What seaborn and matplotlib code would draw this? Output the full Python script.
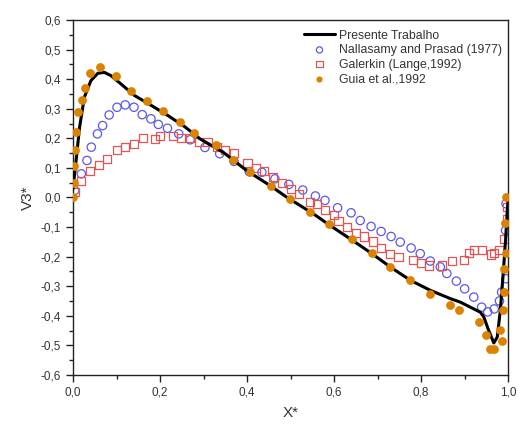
import matplotlib
matplotlib.use("Agg")
import matplotlib.pyplot as plt
import seaborn as sns
import pandas as pd
from matplotlib.ticker import MultipleLocator, FuncFormatter

# Presente Trabalho (line)
line_x = [0.0, 0.007, 0.015, 0.026, 0.041, 0.057, 0.072, 0.087, 0.11, 0.141, 0.18, 0.218,
          0.256, 0.292, 0.345, 0.399, 0.453, 0.491, 0.552, 0.591, 0.637, 0.687, 0.729,
          0.775, 0.821, 0.867, 0.89, 0.936, 0.944, 0.955, 0.967, 0.975, 0.982, 0.988,
          0.994, 0.998, 1.0]
line_y = [0.03, 0.125, 0.237, 0.339, 0.395, 0.42, 0.423, 0.412, 0.384, 0.345, 0.311, 0.277,
          0.24, 0.198, 0.153, 0.091, 0.04, 0.001, -0.055, -0.095, -0.14, -0.19, -0.235,
          -0.28, -0.314, -0.342, -0.354, -0.388, -0.404, -0.449, -0.492, -0.472, -0.382,
          -0.269, -0.145, -0.044, 0.0]

# Nallasamy and Prasad (1977)
nal_x = [0.004, 0.019, 0.032, 0.042, 0.056, 0.068, 0.083, 0.101, 0.12, 0.14, 0.159, 0.179,
         0.196, 0.217, 0.243, 0.269, 0.303, 0.337, 0.37, 0.405, 0.434, 0.464, 0.496, 0.528,
         0.557, 0.579, 0.608, 0.639, 0.66, 0.685, 0.708, 0.731, 0.752, 0.777, 0.798, 0.821,
         0.844, 0.859, 0.881, 0.9, 0.921, 0.939, 0.953, 0.968, 0.98, 0.985, 0.995, 0.994, 0.995]
nal_y = [0.024, 0.08, 0.125, 0.17, 0.215, 0.243, 0.279, 0.305, 0.313, 0.305, 0.28, 0.266,
         0.247, 0.234, 0.215, 0.195, 0.169, 0.148, 0.122, 0.087, 0.085, 0.063, 0.044, 0.025,
         0.005, -0.01, -0.035, -0.052, -0.078, -0.098, -0.115, -0.132, -0.151, -0.171, -0.19,
         -0.215, -0.235, -0.257, -0.283, -0.309, -0.337, -0.371, -0.387, -0.377, -0.35, -0.32,
         -0.275, -0.111, -0.021]

# Galerkin (Lange, 1992)
gal_x = [0.005, 0.019, 0.04, 0.059, 0.079, 0.1, 0.119, 0.14, 0.16, 0.188, 0.2, 0.229, 0.249,
         0.269, 0.29, 0.309, 0.33, 0.349, 0.37, 0.401, 0.421, 0.439, 0.46, 0.48, 0.5, 0.52,
         0.545, 0.56, 0.579, 0.6, 0.61, 0.629, 0.651, 0.669, 0.689, 0.708, 0.729, 0.748,
         0.781, 0.8, 0.819, 0.848, 0.871, 0.899, 0.909, 0.921, 0.94, 0.961, 0.968, 0.98,
         0.99, 0.998, 0.998]
gal_y = [0.018, 0.057, 0.089, 0.11, 0.131, 0.159, 0.17, 0.181, 0.2, 0.198, 0.209, 0.209, 0.2,
         0.2, 0.189, 0.189, 0.17, 0.159, 0.15, 0.117, 0.099, 0.089, 0.069, 0.048, 0.03, 0.012,
         -0.016, -0.021, -0.041, -0.058, -0.081, -0.1, -0.119, -0.132, -0.149, -0.17, -0.19,
         -0.202, -0.21, -0.222, -0.23, -0.23, -0.216, -0.211, -0.188, -0.179, -0.179, -0.193,
         -0.188, -0.179, -0.14, -0.072, -0.033]

# Guia et al., 1992
guia_x = [0.0, 0.003, 0.003, 0.005, 0.007, 0.011, 0.02, 0.028, 0.04, 0.061, 0.099, 0.134,
          0.17, 0.206, 0.246, 0.278, 0.328, 0.368, 0.407, 0.454, 0.499, 0.545, 0.589, 0.641,
          0.687, 0.729, 0.775, 0.821, 0.866, 0.886, 0.932, 0.95, 0.959, 0.968, 0.982, 0.986,
          0.988, 0.99, 0.991, 0.994, 0.992, 0.996]
guia_y = [0.0, 0.05, 0.105, 0.16, 0.22, 0.29, 0.33, 0.37, 0.42, 0.44, 0.41, 0.36, 0.325,
          0.294, 0.255, 0.217, 0.179, 0.127, 0.085, 0.04, -0.004, -0.05, -0.091, -0.142,
          -0.187, -0.235, -0.278, -0.325, -0.365, -0.38, -0.421, -0.466, -0.511, -0.514,
          -0.449, -0.485, -0.379, -0.32, -0.241, -0.188, -0.087, 0.001]

labels = ["Presente Trabalho", "Nallasamy and Prasad (1977)", "Galerkin (Lange,1992)",
          "Guia et al.,1992"]

sns.set_style("ticks")
plt.rcParams['font.family'] = ['Liberation Sans', 'DejaVu Sans']

fig = plt.figure(figsize=(5.18, 4.26), dpi=100)
ax = fig.add_axes([0.141, 0.120, 0.840, 0.833])

orange = "#DB8300"
blue = "#5A5AE6"
red = "#E05555"

df_line = pd.DataFrame({"x": line_x, "y": line_y})
sns.lineplot(data=df_line, x="x", y="y", sort=False, color="black", linewidth=2.2,
             ax=ax, label=labels[0], zorder=3)
sns.scatterplot(x=nal_x, y=nal_y, ax=ax, marker="o", s=36, facecolor="none",
                edgecolor=blue, linewidth=0.9, label=labels[1], zorder=2)
sns.scatterplot(x=gal_x, y=gal_y, ax=ax, marker="s", s=34, facecolor="none",
                edgecolor=red, linewidth=0.9, label=labels[2], zorder=2)
sns.scatterplot(x=guia_x, y=guia_y, ax=ax, marker="o", s=40, color=orange,
                edgecolor=orange, linewidth=0, label=labels[3], zorder=4)

ax.set_xlim(0.0, 1.0)
ax.set_ylim(-0.6, 0.6)
ax.xaxis.set_major_locator(MultipleLocator(0.2))
ax.xaxis.set_minor_locator(MultipleLocator(0.1))
ax.yaxis.set_major_locator(MultipleLocator(0.1))
ax.yaxis.set_minor_locator(MultipleLocator(0.05))
fmt = FuncFormatter(lambda v, p: f"{v:.1f}".replace(".", ",").replace("-0,0", "0,0"))
ax.xaxis.set_major_formatter(fmt)
ax.yaxis.set_major_formatter(fmt)
ax.tick_params(which="major", direction="out", length=5, width=1, labelsize=8.5,
               colors="#222222", labelcolor="#333333")
ax.tick_params(which="minor", direction="out", length=3, width=1, colors="#222222")
for s in ax.spines.values():
    s.set_linewidth(1.0)
    s.set_color("#222222")

ax.set_xlabel("X*", fontsize=11, color="#333333", labelpad=5)
ax.set_ylabel("V3*", fontsize=11, color="#333333", labelpad=4)

leg = ax.legend(loc="upper right", frameon=False, fontsize=8.8, handlelength=2.6,
                handletextpad=0.3, labelspacing=0.2, borderaxespad=0.1,
                bbox_to_anchor=(1.0, 0.99))
for t in leg.get_texts():
    t.set_color("#333333")
for h in leg.legend_handles[1:]:
    try:
        h.set_sizes([20])
    except Exception:
        pass

fig.savefig("out.png", dpi=100)
